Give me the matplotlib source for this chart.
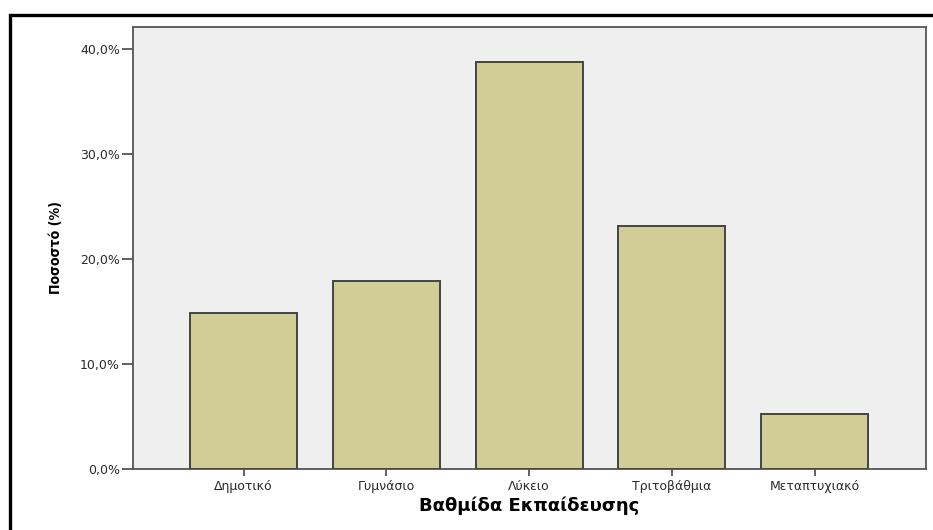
import matplotlib
matplotlib.use("Agg")
import matplotlib.pyplot as plt
from matplotlib.patches import Rectangle
from matplotlib.ticker import FuncFormatter
from matplotlib import font_manager
from matplotlib.font_manager import FontProperties

categories = ["Δημοτικό", "Γυμνάσιο", "Λύκειο", "Τριτοβάθμια", "Μεταπτυχιακό"]
values = [14.9, 17.9, 38.8, 23.1, 5.2]
yticks = [0, 10, 20, 30, 40]
xlabel = "Βαθμίδα Εκπαίδευσης"
ylabel = "Ποσοστό (%)"

# find a condensed / narrow bold face for the y label, if any
narrow_file = None
for f in font_manager.fontManager.ttflist:
    fn = f.fname.lower()
    if ("narrow" in fn or "condensed" in fn) and "bold" in fn and "oblique" not in fn and "italic" not in fn:
        if "liberation" in fn:
            narrow_file = f.fname
            break
        if narrow_file is None:
            narrow_file = f.fname

tick_font = "DejaVu Sans"

fig = plt.figure(figsize=(9.33, 5.30), dpi=100)
W, H = 933, 530
l, r, t, b = 133, 926, 27, 469
ax = fig.add_axes([l / W, 1 - b / H, (r - l) / W, (b - t) / H])
ax.set_facecolor("#efefef")

x = list(range(len(categories)))
ax.bar(x, values, width=0.75, color="#d2cd96", edgecolor="#444444", linewidth=1.4, zorder=3)

ax.set_xlim(-0.775, 4.78)
ax.set_ylim(0, 42.1)
ax.set_yticks(yticks)
ax.yaxis.set_major_formatter(FuncFormatter(lambda v, p: f"{v:.1f}%".replace(".", ",")))
ax.set_xticks(x)
ax.set_xticklabels(categories)

for s in ax.spines.values():
    s.set_color("#555555")
    s.set_linewidth(1.3)

ax.tick_params(axis="y", length=8, width=1.3, color="#555555", labelsize=9, pad=1.5, labelcolor="#2a2a2a")
ax.tick_params(axis="x", length=5, width=1.3, color="#555555", labelsize=9, pad=3, labelcolor="#2a2a2a")
for lab in ax.get_xticklabels() + ax.get_yticklabels():
    lab.set_fontfamily(tick_font)

ax.set_xlabel(xlabel, fontsize=13, fontweight="bold", family="DejaVu Sans", va="top")
ax.xaxis.set_label_coords(0.5, -0.062)

if narrow_file:
    yfp = FontProperties(fname=narrow_file, size=10.2)
else:
    yfp = FontProperties(family="Liberation Sans", weight="bold", size=10.5)
ax.set_ylabel(ylabel, fontproperties=yfp, va="center")
ax.yaxis.set_label_coords((56 - l) / (r - l), 0.5)

fig.patches.append(Rectangle((9.5 / W, -0.5), 2, 1 - 14.5 / H + 0.5, transform=fig.transFigure,
                             fill=False, edgecolor="black", linewidth=2.4, zorder=10))

fig.savefig("out.png", dpi=100)
